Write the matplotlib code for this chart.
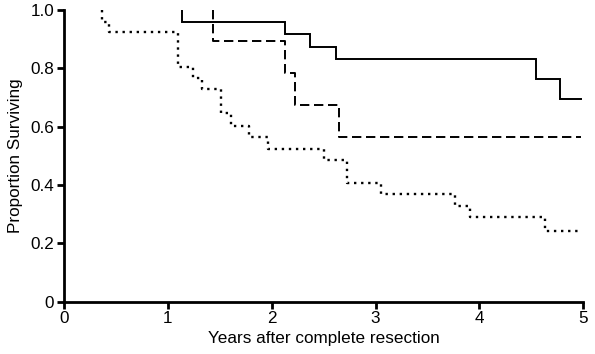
import matplotlib
matplotlib.use("Agg")
import matplotlib.pyplot as plt

plt.rcParams['font.family'] = ['Liberation Sans', 'DejaVu Sans']

# Kaplan-Meier step data (drop times and survival after each drop)
solid_times = [1.136, 2.127, 2.37, 2.618, 4.54, 4.78]
solid_surv = [0.96, 0.917, 0.872, 0.831, 0.765, 0.696]
solid_end = 4.976

dashed_times = [1.437, 2.127, 2.22, 2.65]
dashed_surv = [0.895, 0.785, 0.674, 0.565]
dashed_end = 4.976

dotted_times = [0.369, 0.43, 1.10, 1.245, 1.325, 1.508, 1.607, 1.777, 1.967,
                2.50, 2.727, 3.05, 3.763, 3.907, 4.636]
dotted_surv = [0.96, 0.924, 0.806, 0.766, 0.728, 0.648, 0.602, 0.564, 0.523,
               0.486, 0.408, 0.368, 0.329, 0.291, 0.243]
dotted_end = 4.95

x_ticks = [0, 1, 2, 3, 4, 5]
y_ticks = [0, 0.2, 0.4, 0.6, 0.8, 1.0]
y_tick_labels = ["0", "0.2", "0.4", "0.6", "0.8", "1.0"]


def km_xy(times, surv, end):
    xs = [times[0]] + list(times) + [end]
    ys = [1.0] + list(surv) + [surv[-1]]
    return xs, ys


fig = plt.figure(figsize=(5.95, 3.54), dpi=100)
ax = fig.add_axes([0.1076, 0.1477, 0.8727, 0.8241])

x, y = km_xy(solid_times, solid_surv, solid_end)
ax.step(x, y, where='post', color='black', lw=1.4, solid_joinstyle='miter')
x, y = km_xy(dashed_times, dashed_surv, dashed_end)
ax.step(x, y, where='post', color='black', lw=1.4, linestyle=(0, (4.8, 2.4)))
x, y = km_xy(dotted_times, dotted_surv, dotted_end)
ax.step(x, y, where='post', color='black', lw=1.7, linestyle=(0, (1, 2.0)))

ax.set_xlim(0, 5)
ax.set_ylim(0, 1.0)
ax.set_xticks(x_ticks)
ax.set_xticklabels([str(t) for t in x_ticks])
ax.set_yticks(y_ticks)
ax.set_yticklabels(y_tick_labels)

for s in ['top', 'right']:
    ax.spines[s].set_visible(False)
for s in ['left', 'bottom']:
    ax.spines[s].set_linewidth(2.0)
ax.tick_params(axis='both', direction='out', length=5, width=2.0,
               labelsize=12.3, pad=2)

ax.set_xlabel("Years after complete resection", fontsize=12.3, labelpad=3)
ax.set_ylabel("Proportion Surviving", fontsize=12.3, labelpad=5)

fig.savefig("out.png", dpi=100)
